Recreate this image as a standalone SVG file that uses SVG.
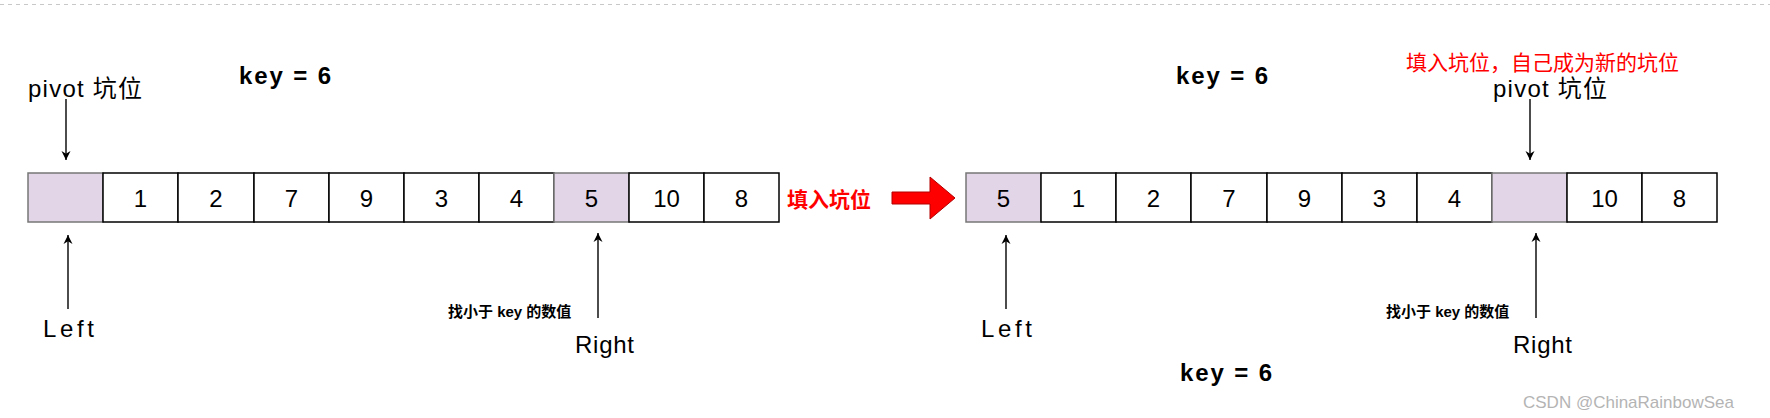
<svg xmlns="http://www.w3.org/2000/svg" width="1770" height="418" viewBox="0 0 1770 418">
<style>
text{font-family:"Liberation Sans","Noto Sans CJK SC",sans-serif;fill:#000}
.num{font-size:24px;text-anchor:middle}
.lbl{font-size:24px}
.key{font-size:24px;font-weight:bold}
.hint{font-size:15px;font-weight:bold}
.red{fill:#ff0000;font-size:21px}
.cell{fill:#fff;stroke:#000;stroke-width:1.5}
.hole{fill:#e1d5e7;stroke:#777;stroke-width:1.5}
.arr{stroke:#000;stroke-width:1.4;fill:none;marker-end:url(#ah)}
</style>
<defs>
<marker id="ah" viewBox="0 0 10 10" refX="10" refY="5" markerWidth="9" markerHeight="11" orient="auto" markerUnits="userSpaceOnUse">
<path d="M0,0 L10,5 L0,10 L3,5 z" fill="#000"/>
</marker>
</defs>
<line x1="0" y1="4.5" x2="1770" y2="4.5" stroke="#c8c8c8" stroke-width="1" stroke-dasharray="4,4"/>

<g id="array-left">
<rect class="hole" x="28" y="173" width="75" height="49"/>
<rect class="cell" x="103" y="173" width="75" height="49"/>
<rect class="cell" x="178" y="173" width="76" height="49"/>
<rect class="cell" x="254" y="173" width="75" height="49"/>
<rect class="cell" x="329" y="173" width="75" height="49"/>
<rect class="cell" x="404" y="173" width="75" height="49"/>
<rect class="cell" x="479" y="173" width="75" height="49"/>
<rect class="hole" x="554" y="173" width="75" height="49"/>
<rect class="cell" x="629" y="173" width="75" height="49"/>
<rect class="cell" x="704" y="173" width="75" height="49"/>
<text class="num" x="140.5" y="207">1</text>
<text class="num" x="216" y="207">2</text>
<text class="num" x="291.5" y="207">7</text>
<text class="num" x="366.5" y="207">9</text>
<text class="num" x="441.5" y="207">3</text>
<text class="num" x="516.5" y="207">4</text>
<text class="num" x="591.5" y="207">5</text>
<text class="num" x="666.5" y="207">10</text>
<text class="num" x="741.5" y="207">8</text>
</g>

<g id="array-right">
<rect class="hole" x="966" y="173" width="75" height="49"/>
<rect class="cell" x="1041" y="173" width="75" height="49"/>
<rect class="cell" x="1116" y="173" width="75" height="49"/>
<rect class="cell" x="1191" y="173" width="76" height="49"/>
<rect class="cell" x="1267" y="173" width="75" height="49"/>
<rect class="cell" x="1342" y="173" width="75" height="49"/>
<rect class="cell" x="1417" y="173" width="75" height="49"/>
<rect class="hole" x="1492" y="173" width="75" height="49"/>
<rect class="cell" x="1567" y="173" width="75" height="49"/>
<rect class="cell" x="1642" y="173" width="75" height="49"/>
<text class="num" x="1003.5" y="207">5</text>
<text class="num" x="1078.5" y="207">1</text>
<text class="num" x="1153.5" y="207">2</text>
<text class="num" x="1229" y="207">7</text>
<text class="num" x="1304.5" y="207">9</text>
<text class="num" x="1379.5" y="207">3</text>
<text class="num" x="1454.5" y="207">4</text>
<text class="num" x="1604.5" y="207">10</text>
<text class="num" x="1679.5" y="207">8</text>
</g>

<g id="labels-left">
<text class="lbl" x="28" y="97" textLength="114">pivot 坑位</text>
<text class="key" x="239" y="84" textLength="92">key = 6</text>
<text class="lbl" x="43" y="337" textLength="51">Left</text>
<text class="lbl" x="575" y="353" textLength="59">Right</text>
<text class="hint" x="448" y="317">找小于 key 的数值</text>
<text class="red" x="787" y="207" font-weight="bold">填入坑位</text>
</g>

<g id="transition">
<polygon points="892,192 930,192 930,177 955,198 930,219 930,204 892,204" fill="#ff0000" stroke="#b20000" stroke-width="1"/>
</g>

<g id="labels-right">
<text class="key" x="1176" y="84" textLength="92">key = 6</text>
<text class="red" x="1406" y="70">填入坑位，自己成为新的坑位</text>
<text class="lbl" x="1493" y="97" textLength="114">pivot 坑位</text>
<text class="lbl" x="981" y="337" textLength="51">Left</text>
<text class="lbl" x="1513" y="353" textLength="59">Right</text>
<text class="hint" x="1386" y="317">找小于 key 的数值</text>
<text class="key" x="1180" y="381" textLength="92">key = 6</text>
</g>

<g id="connectors">
<line class="arr" x1="66" y1="99" x2="66" y2="160"/>
<line class="arr" x1="68" y1="309" x2="68" y2="235"/>
<line class="arr" x1="598" y1="318" x2="598" y2="233"/>
<line class="arr" x1="1530" y1="99" x2="1530" y2="160"/>
<line class="arr" x1="1006" y1="309" x2="1006" y2="235"/>
<line class="arr" x1="1536" y1="318" x2="1536" y2="233"/>
</g>

<text x="1523" y="408" font-size="17" style="fill:#b4b4b4">CSDN @ChinaRainbowSea</text>
</svg>
